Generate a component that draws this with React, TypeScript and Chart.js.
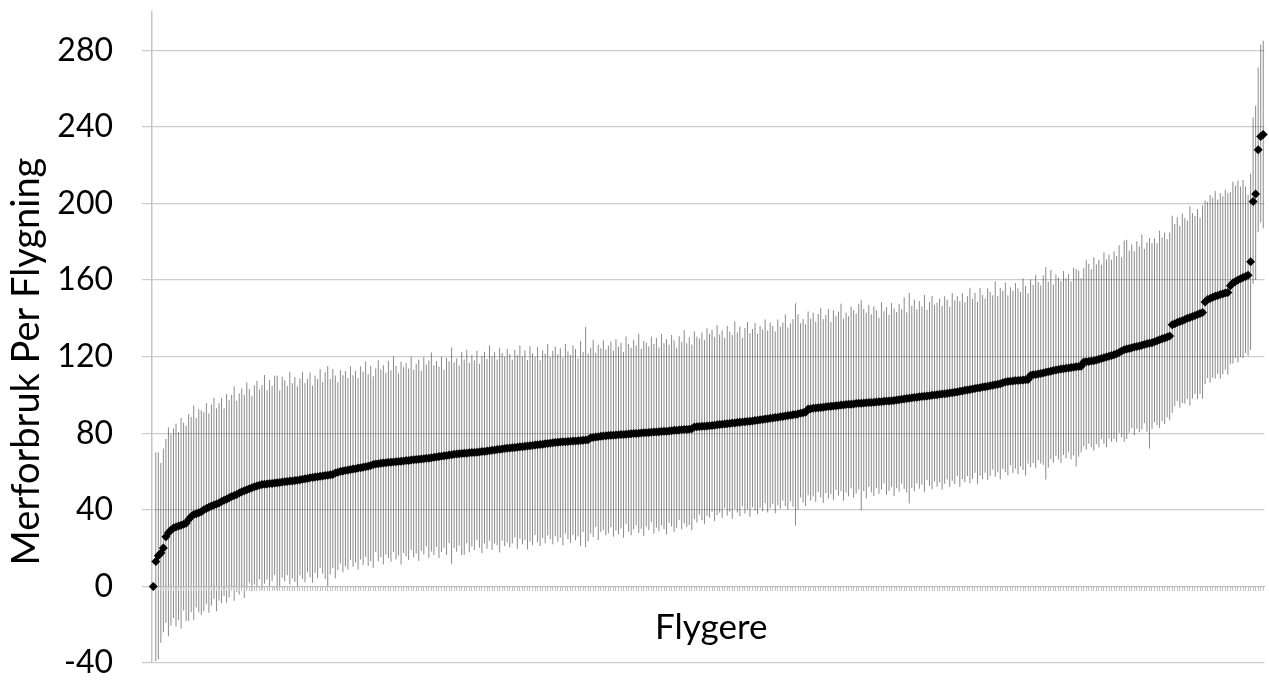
import { useEffect, useRef } from 'react';
import { Chart, registerables } from 'chart.js';

Chart.register(...registerables);

// Y-axis tick values
const yTicks = [-40, 0, 40, 80, 120, 160, 200, 240, 280];

// Mean extra fuel per flight for each pilot, sorted ascending
const snitt = [
  0, 13, 16, 17.5, 20, 26, 28, 29.5, 30.5, 31, 31.5, 32, 32.5, 33, 35, 36.5, 37.5, 38, 38.5, 39,
  40, 40.7, 41.3, 42, 42.5, 43, 43.6, 44.3, 45, 45.5, 46.3, 47, 47.5, 48, 48.8, 49.4, 50, 50.5, 51, 51.5,
  52, 52.4, 52.8, 53.2, 53.4, 53.5, 53.7, 53.8, 54, 54.1, 54.3, 54.5, 54.6, 54.8, 55, 55.1, 55.3, 55.5, 55.7, 56,
  56.2, 56.4, 56.7, 56.9, 57.1, 57.3, 57.5, 57.7, 57.9, 58.1, 58.3, 58.5, 59.2, 59.6, 60, 60.3, 60.5, 60.8, 61, 61.3,
  61.5, 61.8, 62, 62.2, 62.5, 62.8, 63.2, 63.7, 63.9, 64.1, 64.3, 64.5, 64.6, 64.8, 64.9, 65, 65.1, 65.2, 65.4, 65.5,
  65.7, 65.8, 66, 66.1, 66.3, 66.4, 66.6, 66.7, 66.9, 67, 67.2, 67.4, 67.6, 67.8, 68, 68.2, 68.4, 68.6, 68.8, 69,
  69.1, 69.3, 69.4, 69.5, 69.6, 69.8, 69.9, 70, 70.1, 70.2, 70.4, 70.5, 70.7, 70.9, 71.1, 71.3, 71.5, 71.7, 71.8, 72,
  72.1, 72.3, 72.4, 72.6, 72.7, 72.9, 73, 73.2, 73.3, 73.5, 73.6, 73.8, 74, 74.1, 74.3, 74.5, 74.6, 74.8, 75, 75.2,
  75.3, 75.4, 75.5, 75.6, 75.7, 75.8, 75.9, 76, 76.1, 76.2, 76.4, 76.5, 76.6, 77.6, 77.8, 78, 78.2, 78.4, 78.5, 78.7,
  78.8, 78.9, 79, 79.1, 79.2, 79.3, 79.4, 79.5, 79.6, 79.7, 79.8, 79.9, 80, 80.1, 80.2, 80.3, 80.4, 80.5, 80.6, 80.7,
  80.8, 80.9, 81, 81.1, 81.2, 81.3, 81.5, 81.6, 81.7, 81.8, 81.9, 82, 82.1, 82.3, 83.2, 83.4, 83.5, 83.6, 83.7, 83.8,
  83.9, 84, 84.2, 84.4, 84.5, 84.7, 84.8, 85, 85.1, 85.3, 85.4, 85.6, 85.7, 85.9, 86, 86.1, 86.3, 86.4, 86.6, 86.8,
  87, 87.2, 87.4, 87.6, 87.8, 88, 88.2, 88.4, 88.6, 88.8, 89, 89.2, 89.4, 89.6, 89.8, 90.1, 90.4, 90.7, 91, 92.6,
  92.8, 93, 93.2, 93.3, 93.5, 93.6, 93.8, 93.9, 94.1, 94.2, 94.4, 94.5, 94.7, 94.8, 95, 95.1, 95.2, 95.3, 95.5, 95.6,
  95.7, 95.8, 95.9, 96, 96.1, 96.2, 96.3, 96.4, 96.5, 96.7, 96.8, 96.9, 97, 97.1, 97.3, 97.5, 97.7, 97.9, 98.1, 98.3,
  98.5, 98.7, 98.8, 99, 99.2, 99.3, 99.5, 99.6, 99.8, 100, 100.1, 100.3, 100.5, 100.6, 100.8, 101, 101.2, 101.4, 101.6, 101.9,
  102.1, 102.4, 102.6, 102.9, 103.1, 103.3, 103.6, 103.8, 104.1, 104.3, 104.6, 104.8, 105, 105.3, 105.6, 105.9, 106.4, 106.7, 107, 107.2,
  107.3, 107.5, 107.6, 107.7, 107.8, 107.9, 108.1, 110.3, 110.5, 110.7, 110.9, 111.2, 111.5, 111.8, 112.1, 112.4, 112.7, 113, 113.3, 113.5,
  113.7, 113.9, 114.1, 114.3, 114.5, 114.7, 114.8, 115, 117.2, 117.4, 117.5, 117.7, 117.9, 118.2, 118.6, 119, 119.4, 119.8, 120.2, 120.6,
  121, 121.5, 122.2, 122.9, 123.6, 124, 124.3, 124.6, 125, 125.3, 125.6, 125.9, 126.3, 126.7, 127, 127.3, 127.8, 128.3, 128.8, 129.3,
  129.8, 130.3, 130.8, 136.6, 137.2, 137.8, 138.3, 138.8, 139.4, 140, 140.5, 141, 141.5, 142, 142.5, 143, 148.6, 149.8, 150.4, 151,
  151.5, 152, 152.5, 152.8, 153.2, 153.5, 157, 158.4, 159.3, 160, 160.7, 161.3, 161.9, 162.5, 169.5, 201, 205, 228, 235, 236,
];

// Error bar above the mean (null = single flight, no bar)
const feilOpp = [
  null, 57, 54, 47, 52, 51, 55, 50, 52, 54, 49, 56, 53, 51, 55, 52, 57, 50, 54, 53,
  51, 55, 49, 53, 56, 50, 52, 54, 48, 55, 51, 53, 57, 49, 52, 54, 50, 56, 52, 48,
  53, 55, 50, 52, 57, 49, 54, 51, 56, 56, 48, 55, 53, 50, 57, 51, 54, 49, 53, 56,
  50, 52, 55, 48, 53, 51, 56, 49, 54, 57, 50, 55, 51, 47, 53, 50, 52, 48, 54, 49,
  51, 47, 53, 50, 55, 48, 52, 46, 50, 54, 49, 51, 47, 53, 48, 55, 50, 46, 52, 49,
  51, 48, 54, 47, 50, 52, 46, 53, 49, 51, 55, 48, 50, 47, 52, 45, 51, 49, 56, 48,
  50, 46, 53, 49, 54, 47, 51, 48, 53, 46, 50, 52, 48, 55, 49, 51, 47, 53, 50, 48,
  52, 49, 46, 51, 48, 53, 47, 50, 45, 52, 48, 46, 51, 44, 49, 47, 52, 45, 48, 50,
  46, 49, 44, 51, 47, 45, 50, 48, 43, 52, 46, 59, 45, 47, 51, 44, 48, 46, 50, 45,
  47, 49, 44, 50, 46, 48, 43, 51, 47, 45, 49, 46, 52, 44, 48, 47, 45, 50, 46, 49,
  44, 51, 46, 48, 45, 50, 47, 43, 49, 46, 52, 45, 48, 44, 50, 47, 46, 49, 45, 51,
  48, 50, 46, 52, 47, 49, 45, 51, 48, 46, 53, 47, 50, 44, 49, 52, 46, 48, 51, 45,
  49, 47, 52, 46, 50, 48, 45, 51, 47, 49, 53, 46, 48, 50, 58, 52, 47, 49, 46, 51,
  47, 50, 45, 49, 52, 46, 48, 51, 44, 50, 47, 49, 53, 45, 48, 46, 51, 49, 47, 52,
  54, 49, 47, 51, 46, 50, 48, 44, 52, 47, 49, 45, 51, 48, 46, 50, 47, 53, 45, 55,
  48, 51, 46, 50, 47, 53, 45, 49, 52, 47, 48, 50, 46, 51, 49, 45, 52, 48, 50, 47,
  51, 46, 49, 53, 47, 50, 45, 52, 48, 46, 51, 49, 47, 54, 46, 50, 48, 52, 45, 49,
  47, 51, 48, 46, 53, 49, 45, 50, 47, 52, 48, 46, 51, 55, 47, 53, 45, 50, 48, 46,
  51, 47, 49, 45, 52, 51, 50, 46, 49, 53, 51, 48, 54, 50, 52, 49, 55, 51, 53, 50,
  54, 51, 56, 49, 57, 57, 51, 54, 50, 55, 52, 58, 50, 53, 55, 52, 54, 51, 57, 53,
  55, 51, 54, 57, 52, 55, 50, 56, 53, 51, 58, 54, 52, 55, 50, 56, 53, 51, 54, 52,
  55, 50, 53, 51, 54, 52, 49, 53, 50, 52, 48, 51, 47, 42, 46, 44, 46, 43, 48, 49,
];

// Error bar below the mean
const feilNed = [
  null, 52, 54, 47, 44, 45, 54, 50, 47, 52, 49, 54, 45, 51, 53, 50, 55, 49, 52, 54,
  53, 50, 55, 52, 49, 56, 51, 53, 50, 54, 52, 48, 55, 51, 53, 50, 56, 52, 49, 54,
  51, 53, 49, 55, 52, 50, 54, 51, 48, 56, 55, 50, 52, 49, 54, 51, 53, 56, 50, 52,
  54, 49, 52, 55, 50, 53, 48, 51, 54, 58, 52, 49, 55, 51, 48, 53, 50, 52, 47, 51,
  49, 53, 48, 51, 47, 52, 50, 54, 46, 51, 49, 53, 48, 50, 52, 47, 51, 49, 54, 48,
  50, 52, 47, 51, 49, 53, 48, 50, 46, 52, 49, 51, 47, 53, 50, 48, 52, 46, 57, 49,
  51, 48, 53, 53, 47, 52, 49, 51, 46, 50, 53, 48, 51, 47, 52, 49, 50, 54, 48, 51,
  49, 52, 50, 47, 53, 48, 51, 49, 54, 50, 52, 47, 51, 53, 49, 52, 48, 50, 53, 49,
  52, 50, 54, 48, 51, 53, 49, 52, 50, 55, 48, 56, 53, 50, 52, 47, 54, 50, 49, 52,
  51, 48, 53, 50, 52, 49, 54, 47, 51, 53, 50, 48, 52, 50, 54, 49, 51, 47, 53, 50,
  52, 49, 51, 54, 48, 50, 53, 51, 47, 52, 49, 51, 50, 53, 48, 50, 46, 49, 51, 47,
  48, 45, 50, 47, 46, 49, 44, 48, 46, 50, 45, 47, 49, 44, 48, 46, 50, 45, 47, 49,
  46, 48, 44, 49, 47, 45, 50, 46, 48, 44, 47, 49, 45, 48, 58, 50, 44, 47, 49, 45,
  48, 46, 49, 44, 47, 50, 45, 48, 46, 49, 44, 47, 45, 50, 46, 48, 44, 49, 47, 45,
  56, 46, 50, 44, 47, 49, 45, 48, 46, 43, 49, 47, 45, 50, 46, 48, 44, 47, 49, 55,
  47, 49, 45, 48, 46, 50, 44, 47, 49, 45, 48, 46, 50, 47, 45, 49, 46, 48, 44, 50,
  46, 48, 45, 49, 47, 44, 50, 46, 48, 45, 49, 47, 44, 48, 46, 50, 45, 47, 49, 44,
  48, 46, 49, 45, 47, 50, 44, 48, 46, 49, 45, 47, 48, 56, 50, 46, 48, 45, 47, 49,
  45, 47, 44, 48, 46, 52, 47, 45, 44, 46, 43, 45, 47, 44, 46, 42, 45, 47, 43, 45,
  44, 46, 42, 45, 48, 47, 44, 42, 46, 43, 45, 44, 41, 46, 55, 45, 42, 44, 46, 43,
  45, 42, 44, 46, 43, 41, 45, 43, 44, 42, 46, 43, 41, 44, 42, 45, 43, 41, 44, 42,
  43, 41, 44, 42, 40, 43, 41, 42, 40, 43, 41, 42, 40, 42, 46, 43, 45, 43, 45, 49,
];

const flygere = snitt.map((_, i) => String(i + 1));

const yTittel = 'Merforbruk Per Flygning';
const xTittel = 'Flygere';

const FONT = 'Lato, "Open Sans", "Liberation Sans", sans-serif';

// Vertical error bars, drawn first so the grid lies over them
const errorBars = {
  id: 'errorBars',
  beforeDraw(chart: any) {
    const { ctx, chartArea, scales } = chart;
    const x = scales.x;
    const y = scales.y;
    ctx.save();
    ctx.beginPath();
    ctx.rect(chartArea.left, chartArea.top, chartArea.right - chartArea.left, chartArea.bottom - chartArea.top);
    ctx.clip();
    ctx.strokeStyle = '#8a8a8a';
    ctx.lineWidth = 1;
    ctx.beginPath();
    snitt.forEach((m, i) => {
      const up = feilOpp[i];
      const dn = feilNed[i];
      if (up == null || dn == null) return;
      const px = x.getPixelForValue(i);
      ctx.moveTo(px, y.getPixelForValue(m + up));
      ctx.lineTo(px, y.getPixelForValue(m - dn));
    });
    ctx.stroke();
    ctx.restore();
  },
};

// Axis titles
const axisTitles = {
  id: 'axisTitles',
  afterDraw(chart: any) {
    const { ctx, chartArea, scales } = chart;
    const y = scales.y;
    ctx.save();
    ctx.fillStyle = '#000';
    ctx.textAlign = 'center';
    ctx.textBaseline = 'middle';

    ctx.font = `38px ${FONT}`;
    ctx.translate(27, (chartArea.top + chartArea.bottom) / 2 + 24);
    ctx.rotate(-Math.PI / 2);
    ctx.fillText(yTittel, 0, 0);
    ctx.setTransform(1, 0, 0, 1, 0, 0);

    ctx.font = `35px ${FONT}`;
    ctx.fillText(xTittel, (chartArea.left + chartArea.right) / 2 + 3, y.getPixelForValue(0) + 41);
    ctx.restore();
  },
};

export default function App() {
  const ref = useRef<HTMLCanvasElement>(null);

  useEffect(() => {
    if (!ref.current) return;
    const chart = new Chart(ref.current, {
      type: 'line',
      data: {
        labels: flygere,
        datasets: [
          {
            data: snitt,
            showLine: false,
            pointStyle: 'rectRot',
            pointRadius: 4.5,
            pointHoverRadius: 4.5,
            pointBackgroundColor: '#000',
            pointBorderColor: '#000',
            pointBorderWidth: 0,
          },
        ],
      },
      options: {
        responsive: false,
        devicePixelRatio: 1,
        animation: false,
        events: [],
        layout: { padding: { top: 12, bottom: 17, left: 0, right: 1 } },
        plugins: {
          legend: { display: false },
          tooltip: { enabled: false },
        },
        scales: {
          x: {
            type: 'category',
            position: { y: 0 },
            offset: true,
            ticks: { display: false, autoSkip: false },
            grid: {
              display: true,
              drawOnChartArea: false,
              drawTicks: true,
              tickLength: 4,
              color: '#c4c4c4',
              lineWidth: 1,
            },
            border: { display: true, color: '#bdbdbd', width: 1 },
          },
          y: {
            min: -40,
            max: 300,
            afterBuildTicks: (s: any) => {
              s.ticks = yTicks.map((v) => ({ value: v }));
            },
            afterFit: (s: any) => {
              s.width = 152;
              s.paddingTop = 0;
              s.paddingBottom = 0;
            },
            ticks: {
              color: '#000',
              padding: 29,
              font: { family: FONT, size: 32 },
            },
            grid: {
              color: 'rgba(0,0,0,0.2)',
              lineWidth: 1.25,
              tickLength: 10,
              drawTicks: true,
            },
            border: { display: true, color: '#c4c4c4', width: 1.5 },
          },
        },
      },
      plugins: [errorBars, axisTitles],
    });
    return () => chart.destroy();
  }, []);

  return (
    <div style={{ position: 'fixed', left: 0, top: 0, width: 1269, height: 680, background: '#fff' }}>
      <canvas ref={ref} width={1269} height={680} style={{ display: 'block' }} />
    </div>
  );
}
